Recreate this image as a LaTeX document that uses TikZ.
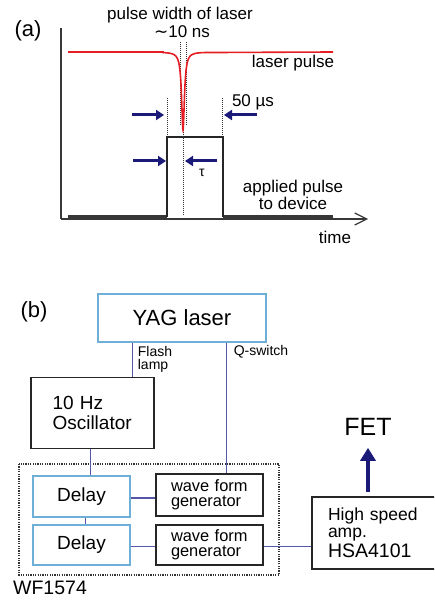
\documentclass[tikz,border=0pt]{standalone}
\usepackage{fontspec}
\setmainfont{Liberation Sans}
\newfontfamily\dejavu{DejaVu Sans}
\usetikzlibrary{arrows.meta}
\definecolor{laserred}{RGB}{228,30,36}
\definecolor{navyarr}{RGB}{28,26,120}
\definecolor{lblue}{RGB}{110,175,215}
\definecolor{connc}{RGB}{85,85,170}
\definecolor{axisc}{RGB}{55,55,55}
\newcommand\myfs[2]{\fontsize{#1}{#2}\selectfont}
\begin{document}
\begin{tikzpicture}[x=1pt,y=-1pt,
  bluebox/.style={draw=lblue, line width=1.3pt, inner sep=0pt},
  blackbox/.style={draw=black!85, line width=1.3pt, inner sep=0pt},
  conn/.style={draw=connc, line width=1pt},
  lbl/.style={inner sep=0pt, font=\myfs{17}{17}},
  navyarrow/.style={draw=navyarr, line width=3pt, -{Triangle[length=8pt,width=10pt]}},
  dotln/.style={draw=black!80, line width=1pt, dash pattern=on 1pt off 1pt}]
\useasboundingbox (0,0) rectangle (434,601);
\clip (0,0) rectangle (434,601);

% ---------- (a) ----------
\node[inner sep=0pt, font=\myfs{22}{22}] (la) at (28,31) {(a)};
\node[lbl] (pw) at (180,15) {pulse width of laser};
\node[lbl] (tn) at (182,32) {{\dejavu ∼}10 ns};
\node[lbl] (lp) at (293,63) {laser pulse};
\node[lbl] (fu) at (253,102) {50 µs};
\node[lbl, font=\myfs{14}{14}] (tau) at (202,173) {τ};
\node[lbl, align=center] (ap) at (293,195) {applied pulse\\to device};
\node[lbl] (tm) at (335,237) {time};

% axes
\draw[axisc, line width=1.2pt] (61,28) -- (61,219);
\draw[axisc, line width=1.2pt, -{Straight Barb[length=12pt,width=12pt]}] (61,219) -- (368,219);

% applied pulse
\draw[axisc, line width=3pt] (68,217) -- (167,217);
\draw[axisc, line width=3pt] (223,217) -- (333,217);
\draw[black!85, line width=1.3pt] (167,217) -- (167,137) -- (223,137) -- (223,217);

% dotted lines
\draw[dotln] (180,42) -- (180,125);
\draw[dotln] (186,42) -- (186,125);
\draw[dotln] (183,120) -- (183,216);
\draw[dotln] (167,98) -- (167,137);
\draw[dotln] (222,98) -- (222,137);

% laser pulse
\draw[laserred, line width=1.6pt] (68,52) -- (163,52)
  -- plot[domain=-20:20, samples=241] ({183+\x}, {52+78/(1+(\x/1.7)^2)})
  -- (333,52);

% arrows
\draw[navyarrow] (132,115) -- (164,115);
\draw[navyarrow] (257,115) -- (224,115);
\draw[navyarrow] (133,161) -- (166,161);
\draw[navyarrow] (217,161) -- (185,161);

% ---------- (b) ----------
\node[inner sep=0pt, font=\myfs{22}{22}] (lb) at (34,312) {(b)};
\draw[black!80, line width=1.2pt, dash pattern=on 1.2pt off 1.2pt] (19,464) rectangle (279,575);

\node[bluebox, minimum width=168pt, minimum height=48pt, font=\myfs{22}{22}] (yag) at (182,318) {YAG laser};
\node[blackbox, minimum width=123pt, minimum height=71pt, text width=80pt, align=left, font=\myfs{19}{19.5}] (osc) at (92.5,413) {10 Hz\\Oscillator};
\node[bluebox, minimum width=97pt, minimum height=41pt, font=\myfs{19}{19}] (d1) at (81.5,496.5) {Delay};
\node[bluebox, minimum width=97pt, minimum height=40pt, font=\myfs{19}{19}] (d2) at (81.5,545) {Delay};
\node[blackbox, minimum width=107pt, minimum height=42pt, text width=77pt, align=left, font=\myfs{16.4}{15.5}] (w1) at (209.5,495) {wave form\\generator};
\node[blackbox, minimum width=107pt, minimum height=40pt, text width=77pt, align=left, font=\myfs{16.4}{15.5}] (w2) at (209.5,545) {wave form\\generator};
\node[blackbox, minimum width=124pt, minimum height=72pt, text width=92pt, align=left, font=\myfs{17.5}{17}] (hsa) at (374,533) {High speed\\amp.\\[2pt]{\myfs{19.5}{19}HSA4101}};
\node[inner sep=0pt, font=\myfs{25}{25}] (fet) at (368,427) {FET};
\node[inner sep=0pt, font=\myfs{19.5}{19.5}] (wf) at (50,588) {WF1574};

\node[inner sep=0pt, align=left, font=\myfs{14}{13}] (fll) at (155,359) {Flash\\lamp};
\node[inner sep=0pt, font=\myfs{14}{14}] (qsl) at (261,352) {Q-switch};

\coordinate (flx) at (132,360);
\coordinate (qsx) at (226,400);
\coordinate (odx) at (90,460);
\coordinate (ddx) at (85,520);

\draw[conn] (yag.south -| flx) -- (osc.north -| flx);
\draw[conn] (yag.south -| qsx) -- (w1.north -| qsx);
\draw[conn] (osc.south -| odx) -- (d1.north -| odx);
\draw[conn] (d1.south -| ddx) -- (d2.north -| ddx);
\draw[conn, line width=2pt] ([yshift=-1.5pt]d1.east) -- ([yshift=-1.5pt]d1.east -| w1.west);
\draw[conn] ([yshift=-1pt]d2.east) -- ([yshift=-1pt]d2.east -| w2.west);
\draw[conn] ([yshift=-1pt]w2.east) -- ([yshift=-1pt]w2.east -| hsa.west);
\draw[navyarrow, line width=4pt, -{Triangle[length=13pt,width=15pt]}, shorten >=12pt] ([yshift=4pt]hsa.north -| fet.south) -- (fet.south);
\end{tikzpicture}
\end{document}
